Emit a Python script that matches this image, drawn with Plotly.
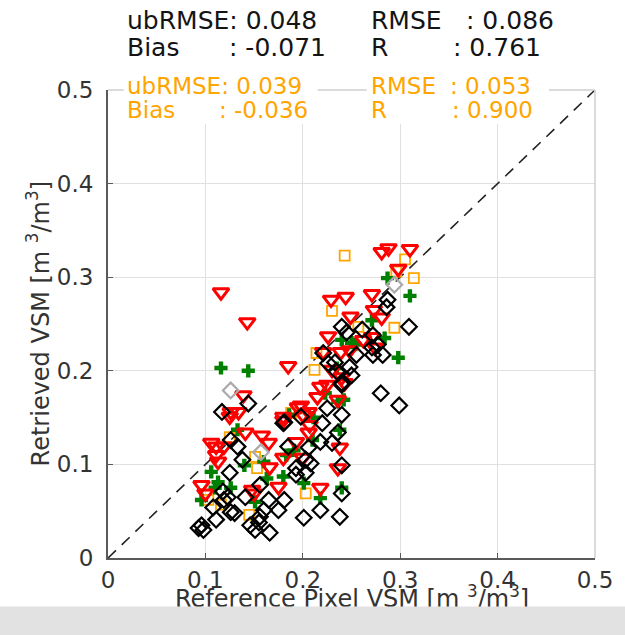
import plotly.graph_objects as go

# ---------------- data ----------------
red_x = [0.116, 0.143, 0.185, 0.139, 0.134, 0.126, 0.106, 0.111, 0.119, 0.141,
         0.158, 0.165, 0.195, 0.200, 0.206, 0.193, 0.180, 0.166, 0.175, 0.148,
         0.096, 0.100, 0.113, 0.218, 0.180, 0.218, 0.225, 0.236, 0.238, 0.236,
         0.200, 0.229, 0.244, 0.271, 0.273, 0.281, 0.249, 0.226, 0.239, 0.248,
         0.198, 0.206, 0.180, 0.262, 0.271, 0.274, 0.230, 0.240, 0.281, 0.288,
         0.310, 0.298, 0.243, 0.221, 0.125, 0.111, 0.150, 0.215, 0.207]
red_y = [0.284, 0.252, 0.205, 0.174, 0.156, 0.156, 0.123, 0.110, 0.119, 0.134,
         0.131, 0.123, 0.161, 0.153, 0.134, 0.124, 0.107, 0.097, 0.076, 0.073,
         0.078, 0.069, 0.103, 0.075, 0.147, 0.183, 0.185, 0.169, 0.118, 0.096,
         0.107, 0.276, 0.279, 0.282, 0.265, 0.257, 0.258, 0.237, 0.220, 0.222,
         0.163, 0.156, 0.151, 0.233, 0.236, 0.225, 0.201, 0.193, 0.327, 0.331,
         0.330, 0.309, 0.187, 0.220, 0.151, 0.119, 0.069, 0.172, 0.142]

black_x = [0.117, 0.144, 0.126, 0.133, 0.138, 0.125, 0.118, 0.119, 0.108, 0.096,
           0.098, 0.093, 0.111, 0.126, 0.130, 0.141, 0.156, 0.165, 0.156, 0.146,
           0.151, 0.166, 0.175, 0.181, 0.185, 0.193, 0.193, 0.198, 0.203, 0.206,
           0.208, 0.201, 0.218, 0.218, 0.180, 0.240, 0.225, 0.220, 0.240, 0.236,
           0.230, 0.203, 0.240, 0.240, 0.238, 0.287, 0.309, 0.280, 0.299, 0.240,
           0.245, 0.261, 0.272, 0.277, 0.282, 0.272, 0.221, 0.233, 0.226, 0.248,
           0.255, 0.235, 0.240, 0.286, 0.271, 0.250, 0.123, 0.155, 0.160, 0.181]
black_y = [0.156, 0.165, 0.126, 0.119, 0.105, 0.091, 0.071, 0.062, 0.054, 0.035,
           0.030, 0.032, 0.041, 0.049, 0.048, 0.065, 0.078, 0.062, 0.044, 0.035,
           0.030, 0.027, 0.051, 0.062, 0.119, 0.096, 0.089, 0.151, 0.105, 0.118,
           0.101, 0.043, 0.051, 0.124, 0.144, 0.185, 0.160, 0.144, 0.153, 0.134,
           0.123, 0.091, 0.099, 0.069, 0.044, 0.276, 0.247, 0.176, 0.163, 0.247,
           0.241, 0.244, 0.238, 0.228, 0.217, 0.217, 0.219, 0.209, 0.208, 0.204,
           0.217, 0.199, 0.187, 0.268, 0.225, 0.195, 0.065, 0.038, 0.051, 0.145]

green_x = [0.116, 0.144, 0.287, 0.310, 0.298, 0.240, 0.250, 0.223, 0.236, 0.242,
           0.238, 0.240, 0.201, 0.218, 0.191, 0.211, 0.106, 0.113, 0.126, 0.096,
           0.110, 0.133, 0.140, 0.160, 0.163, 0.151, 0.180, 0.186, 0.210, 0.183,
           0.271, 0.254, 0.284, 0.235]
green_y = [0.203, 0.200, 0.299, 0.280, 0.214, 0.233, 0.230, 0.176, 0.167, 0.169,
           0.137, 0.075, 0.080, 0.064, 0.115, 0.150, 0.092, 0.081, 0.075, 0.062,
           0.075, 0.137, 0.099, 0.103, 0.085, 0.060, 0.087, 0.153, 0.126, 0.110,
           0.254, 0.228, 0.235, 0.203]

orange_x = [0.243, 0.305, 0.314, 0.296, 0.230, 0.294, 0.212, 0.214, 0.257, 0.203,
            0.145, 0.125, 0.151, 0.153, 0.116, 0.103, 0.188]
orange_y = [0.323, 0.319, 0.299, 0.306, 0.264, 0.246, 0.201, 0.219, 0.247, 0.069,
            0.046, 0.129, 0.108, 0.096, 0.057, 0.062, 0.155]

grey_x = [0.126, 0.157, 0.294]
grey_y = [0.179, 0.113, 0.292]

one_to_one = [0, 0.5]
tick_vals = [0, 0.1, 0.2, 0.3, 0.4, 0.5]
tick_text = ["0", "0.1", "0.2", "0.3", "0.4", "0.5"]

stats_all = {"ubRMSE": "0.048", "Bias": "-0.071", "RMSE": "0.086", "R": "0.761"}
stats_sub = {"ubRMSE": "0.039", "Bias": "-0.036", "RMSE": "0.053", "R": "0.900"}

# ---------------- figure ----------------
FONT = "DejaVu Sans"
L, R, T, B = 108, 20, 90, 77
W, H = 625, 635
PW, PH = W - L - R, H - T - B


def px(xp):
    return (xp - L) / PW


def py(yp):
    return (H - B - yp) / PH


fig = go.Figure()
fig.add_trace(go.Scatter(x=one_to_one, y=one_to_one, mode="lines",
                         line=dict(color="#222222", width=1.6, dash="11px,8px"),
                         hoverinfo="skip"))
fig.add_trace(go.Scatter(x=orange_x, y=orange_y, mode="markers",
                         marker=dict(symbol="square-open", size=10, color="#FFA500",
                                     line=dict(width=1.8, color="#FFA500"))))
fig.add_trace(go.Scatter(x=green_x, y=green_y, mode="markers",
                         marker=dict(symbol="cross", size=11, color="#008000",
                                     line=dict(width=0))))
fig.add_trace(go.Scatter(x=red_x, y=red_y, mode="markers",
                         marker=dict(symbol="triangle-down-open", size=14, color="#FF0000",
                                     line=dict(width=3, color="#FF0000"))))
fig.add_trace(go.Scatter(x=black_x, y=black_y, mode="markers",
                         marker=dict(symbol="diamond-open", size=12, color="#000000",
                                     line=dict(width=2.2, color="#000000"))))
fig.add_trace(go.Scatter(x=grey_x, y=grey_y, mode="markers",
                         marker=dict(symbol="diamond-open", size=12, color="#AAAAAA",
                                     line=dict(width=2.2, color="#AAAAAA"))))

axis_common = dict(range=[0, 0.5], tickvals=tick_vals, ticktext=tick_text,
                   showgrid=True, gridcolor="#E0E0E0", gridwidth=1,
                   showline=True, linecolor="#5A5A5A", linewidth=2,
                   ticks="inside", ticklen=5, tickcolor="#5A5A5A", tickwidth=1,
                   tickfont=dict(family=FONT, size=23, color="#333333"),
                   zeroline=False, fixedrange=True)
fig.update_xaxes(**axis_common, ticklabelstandoff=0)
fig.update_yaxes(**axis_common, ticklabelstandoff=8)

shapes = [
    # top and right frame (light)
    dict(type="line", xref="paper", yref="paper", x0=0, x1=1, y0=1, y1=1,
         line=dict(color="#CFCFCF", width=1.5), layer="above"),
    dict(type="line", xref="paper", yref="paper", x0=1, x1=1, y0=0, y1=1,
         line=dict(color="#CFCFCF", width=1.5), layer="above"),
    # white boxes behind the orange statistics
    dict(type="rect", xref="paper", yref="paper", x0=px(124), x1=px(322), y0=py(124), y1=py(72),
         fillcolor="white", line=dict(width=0), layer="above"),
    dict(type="rect", xref="paper", yref="paper", x0=px(372), x1=px(558), y0=py(124), y1=py(72),
         fillcolor="white", line=dict(width=0), layer="above"),
]

ann = []


def txt(x, y, s, color, size):
    ann.append(dict(xref="paper", yref="paper", x=px(x), y=py(y), text=s, showarrow=False,
                    xanchor="left", yanchor="middle",
                    font=dict(family=FONT, size=size, color=color)))


BLK, ORG = "#141414", "#FFA500"
txt(125, 20, "ubRMSE: " + stats_all["ubRMSE"], BLK, 25)
txt(125, 47, "Bias", BLK, 25)
txt(229, 47, ": " + stats_all["Bias"], BLK, 25)
txt(374, 20, "RMSE", BLK, 25)
txt(471, 20, ": " + stats_all["RMSE"], BLK, 25)
txt(374, 47, "R", BLK, 25)
txt(458, 47, ": " + stats_all["R"], BLK, 25)

txt(125, 86, "ubRMSE: " + stats_sub["ubRMSE"], ORG, 23)
txt(125, 110, "Bias", ORG, 23)
txt(219, 110, ": " + stats_sub["Bias"], ORG, 23)
txt(374, 86, "RMSE", ORG, 23)
txt(455, 86, ": " + stats_sub["RMSE"], ORG, 23)
txt(374, 110, "R", ORG, 23)
txt(457, 110, ": " + stats_sub["R"], ORG, 23)

# axis titles
ann.append(dict(xref="paper", yref="paper", x=px(37), y=0.5, textangle=-90,
                text="Retrieved VSM [m <sup>3</sup>/m<sup>3</sup>]", showarrow=False,
                xanchor="center", yanchor="middle",
                font=dict(family=FONT, size=24, color="#333333")))
ann.append(dict(xref="paper", yref="paper", x=0.5, y=py(597),
                text="Reference Pixel VSM [m <sup>3</sup>/m<sup>3</sup>]", showarrow=False,
                xanchor="center", yanchor="middle",
                font=dict(family=FONT, size=24, color="#333333")))
# grey strip along the bottom edge of the picture
ann.append(dict(xref="paper", yref="paper", x=px(312.5), y=py(622), text=" ",
                showarrow=False, xanchor="center", yanchor="middle",
                width=640, height=30, bgcolor="#E2E2E2", borderpad=0,
                font=dict(size=10)))

fig.update_layout(width=W, height=H, margin=dict(l=L, r=R, t=T, b=B),
                  paper_bgcolor="white", plot_bgcolor="white", showlegend=False,
                  shapes=shapes, annotations=ann)

fig.write_html("out.html")
